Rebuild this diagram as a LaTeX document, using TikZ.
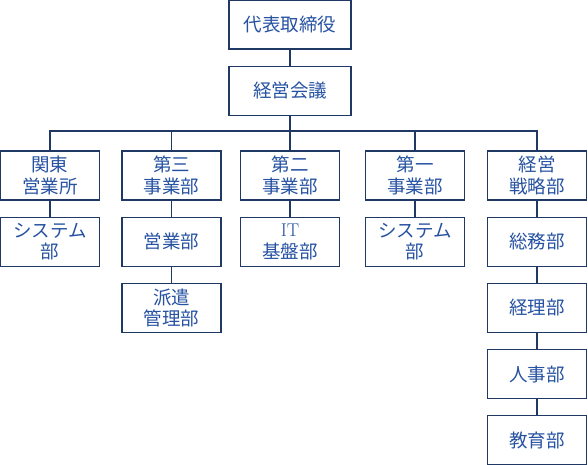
\documentclass[tikz,border=0pt]{standalone}
\usepackage{fontspec}
\usepackage{xcolor}
\usepackage{tikz}
\usetikzlibrary{positioning, calc}
\newfontfamily\jpfont{Noto Sans CJK JP}
\definecolor{linenavy}{RGB}{31, 56, 100}
\definecolor{textblue}{RGB}{38, 82, 162}
\tikzset{
    orgbox/.style={
        draw=linenavy, line width=1.2pt, fill=white, text=textblue,
        minimum width=99pt, minimum height=49pt, inner sep=0pt,
        align=center, font=\jpfont\fontsize{18.5}{21.5}\selectfont
    },
    orgline/.style={
        draw=linenavy, line width=1.1pt
    }
}

\begin{document}
\begin{tikzpicture}[x=1pt, y=-1pt]
        \useasboundingbox (0,0) rectangle (588,464);

        % ==========================================
        % TOP: 代表取締役 / 経営会議
        % ==========================================
        \node[orgbox, minimum width=122pt] (ceo) at (290,24.5) {代表取締役};
        \node[orgbox, minimum width=122pt, below=16pt of ceo] (kaigi) {経営会議};
        \coordinate (bus) at (290,131);

        % ==========================================
        % ROW 1: 事業部
        % ==========================================
        \node[orgbox] (kanto) at (50,175.5) {関東\\営業所};
        \node[orgbox] (dai3) at (171.5,175.5) {第三\\事業部};
        \node[orgbox] (dai2) at (290,175.5) {第二\\事業部};
        \node[orgbox] (dai1) at (415,175.5) {第一\\事業部};
        \node[orgbox] (senryaku) at (537,175.5) {経営\\戦略部};

        % ==========================================
        % ROW 2 and below
        % ==========================================
        \node[orgbox, below=16pt of kanto] (kantosys) {システム\\部};
        \node[orgbox, below=16pt of dai3] (eigyo) {営業部};
        \node[orgbox, below=16pt of eigyo] (haken) {派遣\\管理部};
        \node[orgbox, below=16pt of dai2] (itkiban) {{\normalfont IT}\\基盤部};
        \node[orgbox, below=16pt of dai1] (dai1sys) {システム\\部};
        \node[orgbox, below=16pt of senryaku] (somu) {総務部};
        \node[orgbox, below=16pt of somu] (keiri) {経理部};
        \node[orgbox, below=16pt of keiri] (jinji) {人事部};
        \node[orgbox, below=16pt of jinji] (kyoiku) {教育部};

        % ==========================================
        % CONNECTORS
        % ==========================================
        \draw[orgline] (ceo) -- (kaigi);
        \draw[orgline] (kaigi) -- (bus);
        \foreach \dept in {kanto, dai3, dai2, dai1, senryaku}
            \draw[orgline] (bus) -| (\dept);
        \draw[orgline] (kanto) -- (kantosys);
        \draw[orgline] (dai3) -- (eigyo);
        \draw[orgline] (eigyo) -- (haken);
        \draw[orgline] (dai2) -- (itkiban);
        \draw[orgline] (dai1) -- (dai1sys);
        \draw[orgline] (senryaku) -- (somu);
        \draw[orgline] (somu) -- (keiri);
        \draw[orgline] (keiri) -- (jinji);
        \draw[orgline] (jinji) -- (kyoiku);

    \end{tikzpicture}
\end{document}
